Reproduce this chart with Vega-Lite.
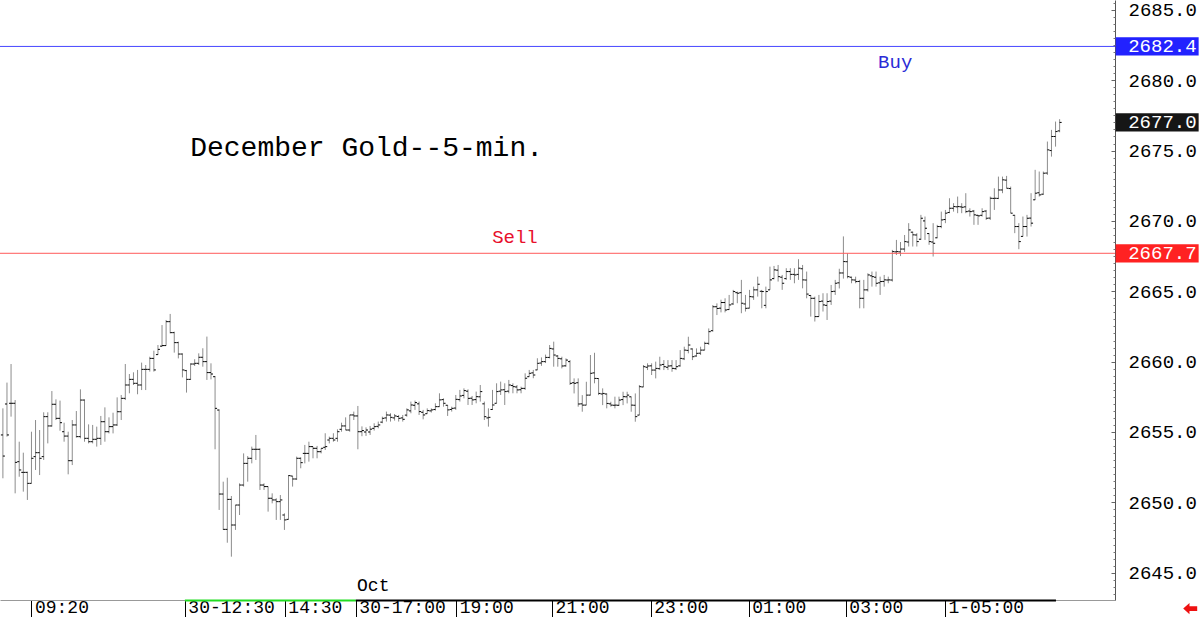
{
"$schema":"https://vega.github.io/schema/vega-lite/v6.json",
"width":1115,"height":600,"autosize":"none",
"padding":{"left":0,"top":0,"right":85,"bottom":17},
"background":"white",
"config":{"view":{"stroke":null},"font":"Liberation Mono"},
"datasets":{
"bars":[
{"i":0,"o":2654.79,"h":2656.68,"l":2651.71,"c":2653.29},
{"i":1,"o":2656.99,"h":2658.51,"l":2654.67,"c":2654.79},
{"i":2,"o":2657.04,"h":2659.83,"l":2656.09,"c":2657.04},
{"i":3,"o":2657.04,"h":2657.27,"l":2650.64,"c":2652.84},
{"i":4,"o":2652.89,"h":2654.31,"l":2651.82,"c":2652.30},
{"i":5,"o":2652.13,"h":2653.53,"l":2650.76,"c":2652.13},
{"i":6,"o":2652.13,"h":2652.18,"l":2650.17,"c":2651.35},
{"i":7,"o":2651.35,"h":2655.02,"l":2651.35,"c":2653.13},
{"i":8,"o":2653.25,"h":2655.85,"l":2652.30,"c":2653.53},
{"i":9,"o":2653.53,"h":2655.14,"l":2651.94,"c":2653.13},
{"i":10,"o":2653.25,"h":2656.40,"l":2653.01,"c":2656.09},
{"i":11,"o":2656.09,"h":2656.40,"l":2654.19,"c":2655.43},
{"i":12,"o":2655.43,"h":2657.91,"l":2655.38,"c":2656.97},
{"i":13,"o":2656.97,"h":2657.32,"l":2655.85,"c":2655.97},
{"i":14,"o":2655.97,"h":2657.23,"l":2655.09,"c":2655.66},
{"i":15,"o":2655.02,"h":2655.66,"l":2654.31,"c":2654.71},
{"i":16,"o":2654.71,"h":2655.02,"l":2651.99,"c":2652.96},
{"i":17,"o":2652.96,"h":2655.85,"l":2652.65,"c":2655.50},
{"i":18,"o":2655.50,"h":2656.49,"l":2654.60,"c":2654.67},
{"i":19,"o":2654.67,"h":2658.03,"l":2654.55,"c":2657.27},
{"i":20,"o":2657.27,"h":2657.32,"l":2654.31,"c":2654.55},
{"i":21,"o":2654.55,"h":2655.54,"l":2654.19,"c":2654.31},
{"i":22,"o":2654.31,"h":2655.50,"l":2654.19,"c":2654.48},
{"i":23,"o":2654.48,"h":2655.38,"l":2653.96,"c":2654.55},
{"i":24,"o":2654.55,"h":2656.14,"l":2654.08,"c":2655.73},
{"i":25,"o":2655.73,"h":2656.75,"l":2654.31,"c":2655.02},
{"i":26,"o":2655.02,"h":2656.04,"l":2654.90,"c":2655.38},
{"i":27,"o":2655.38,"h":2656.37,"l":2654.90,"c":2655.50},
{"i":28,"o":2655.50,"h":2657.46,"l":2655.43,"c":2656.44},
{"i":29,"o":2656.44,"h":2657.63,"l":2655.85,"c":2657.39},
{"i":30,"o":2657.39,"h":2659.83,"l":2657.27,"c":2658.34},
{"i":31,"o":2658.34,"h":2659.12,"l":2657.75,"c":2658.74},
{"i":32,"o":2658.74,"h":2659.24,"l":2658.34,"c":2658.46},
{"i":33,"o":2658.46,"h":2659.41,"l":2657.68,"c":2658.34},
{"i":34,"o":2658.34,"h":2659.93,"l":2657.98,"c":2659.45},
{"i":35,"o":2659.45,"h":2659.76,"l":2657.98,"c":2659.45},
{"i":36,"o":2659.45,"h":2660.35,"l":2659.29,"c":2660.23},
{"i":37,"o":2660.23,"h":2660.78,"l":2659.29,"c":2659.41},
{"i":38,"o":2660.50,"h":2661.18,"l":2660.47,"c":2660.87},
{"i":39,"o":2661.10,"h":2662.60,"l":2661.06,"c":2661.14},
{"i":40,"o":2661.14,"h":2662.96,"l":2661.14,"c":2662.84},
{"i":41,"o":2662.84,"h":2663.39,"l":2662.01,"c":2662.06},
{"i":42,"o":2662.06,"h":2662.13,"l":2660.64,"c":2661.35},
{"i":43,"o":2661.35,"h":2661.42,"l":2660.23,"c":2660.54},
{"i":44,"o":2660.54,"h":2660.59,"l":2658.88,"c":2659.41},
{"i":45,"o":2659.36,"h":2659.41,"l":2657.80,"c":2658.74},
{"i":46,"o":2658.74,"h":2659.88,"l":2658.70,"c":2659.83},
{"i":47,"o":2659.83,"h":2660.17,"l":2659.69,"c":2659.88},
{"i":48,"o":2659.88,"h":2660.59,"l":2659.76,"c":2660.31},
{"i":49,"o":2660.31,"h":2660.95,"l":2659.64,"c":2660.00},
{"i":50,"o":2660.00,"h":2661.78,"l":2658.70,"c":2659.22},
{"i":51,"o":2659.22,"h":2659.88,"l":2658.74,"c":2659.12},
{"i":52,"o":2658.93,"h":2658.98,"l":2653.77,"c":2656.68},
{"i":53,"o":2656.56,"h":2656.61,"l":2649.46,"c":2650.59},
{"i":54,"o":2650.59,"h":2651.47,"l":2648.04,"c":2648.08},
{"i":55,"o":2648.08,"h":2651.75,"l":2647.13,"c":2650.21},
{"i":56,"o":2650.21,"h":2650.45,"l":2646.14,"c":2648.39},
{"i":57,"o":2648.39,"h":2649.81,"l":2648.04,"c":2649.81},
{"i":58,"o":2649.81,"h":2651.35,"l":2649.10,"c":2651.23},
{"i":59,"o":2651.23,"h":2653.48,"l":2651.12,"c":2652.77},
{"i":60,"o":2652.77,"h":2653.29,"l":2651.47,"c":2653.13},
{"i":61,"o":2653.13,"h":2653.96,"l":2652.77,"c":2653.77},
{"i":62,"o":2653.77,"h":2654.79,"l":2653.01,"c":2653.77},
{"i":63,"o":2653.77,"h":2653.84,"l":2650.88,"c":2651.23},
{"i":64,"o":2651.23,"h":2651.35,"l":2650.88,"c":2651.12},
{"i":65,"o":2651.12,"h":2651.12,"l":2649.34,"c":2650.29},
{"i":66,"o":2650.29,"h":2650.64,"l":2649.93,"c":2650.17},
{"i":67,"o":2650.17,"h":2650.29,"l":2648.75,"c":2650.05},
{"i":68,"o":2650.05,"h":2650.52,"l":2648.75,"c":2650.17},
{"i":69,"o":2649.10,"h":2649.22,"l":2648.04,"c":2648.75},
{"i":70,"o":2648.79,"h":2651.94,"l":2648.79,"c":2651.90},
{"i":71,"o":2651.87,"h":2651.87,"l":2651.12,"c":2651.66},
{"i":72,"o":2651.66,"h":2653.25,"l":2651.59,"c":2653.13},
{"i":73,"o":2653.13,"h":2653.20,"l":2652.42,"c":2652.82},
{"i":74,"o":2653.48,"h":2654.08,"l":2652.77,"c":2653.48},
{"i":75,"o":2653.48,"h":2654.31,"l":2652.89,"c":2653.96},
{"i":76,"o":2653.96,"h":2653.96,"l":2653.13,"c":2653.84},
{"i":77,"o":2653.84,"h":2654.01,"l":2653.13,"c":2653.60},
{"i":78,"o":2653.60,"h":2653.84,"l":2653.48,"c":2653.84},
{"i":79,"o":2653.91,"h":2654.91,"l":2653.72,"c":2653.96},
{"i":80,"o":2654.43,"h":2654.67,"l":2654.19,"c":2654.55},
{"i":81,"o":2654.55,"h":2654.91,"l":2654.31,"c":2654.43},
{"i":82,"o":2654.55,"h":2655.19,"l":2654.31,"c":2655.02},
{"i":83,"o":2655.19,"h":2655.66,"l":2655.02,"c":2655.43},
{"i":84,"o":2655.43,"h":2656.04,"l":2655.14,"c":2655.14},
{"i":85,"o":2655.14,"h":2656.21,"l":2655.02,"c":2656.21},
{"i":86,"o":2656.21,"h":2656.45,"l":2655.85,"c":2656.14},
{"i":87,"o":2656.14,"h":2656.85,"l":2653.77,"c":2655.02},
{"i":88,"o":2655.02,"h":2655.40,"l":2654.70,"c":2655.10},
{"i":89,"o":2655.00,"h":2655.33,"l":2654.72,"c":2655.14},
{"i":90,"o":2655.00,"h":2655.43,"l":2654.79,"c":2655.20},
{"i":91,"o":2655.26,"h":2655.62,"l":2655.10,"c":2655.38},
{"i":92,"o":2655.40,"h":2655.74,"l":2655.26,"c":2655.50},
{"i":93,"o":2655.70,"h":2656.09,"l":2655.62,"c":2655.97},
{"i":94,"o":2656.00,"h":2656.45,"l":2655.74,"c":2656.21},
{"i":95,"o":2656.20,"h":2656.33,"l":2655.74,"c":2656.04},
{"i":96,"o":2656.00,"h":2656.28,"l":2655.81,"c":2656.14},
{"i":97,"o":2656.10,"h":2656.21,"l":2655.74,"c":2655.97},
{"i":98,"o":2656.00,"h":2656.21,"l":2655.74,"c":2655.90},
{"i":99,"o":2656.20,"h":2656.68,"l":2656.09,"c":2656.57},
{"i":100,"o":2656.50,"h":2657.16,"l":2656.33,"c":2656.92},
{"i":101,"o":2656.90,"h":2657.23,"l":2656.57,"c":2657.09},
{"i":102,"o":2657.00,"h":2657.16,"l":2656.21,"c":2656.45},
{"i":103,"o":2656.40,"h":2656.57,"l":2655.90,"c":2656.21},
{"i":104,"o":2656.30,"h":2656.68,"l":2656.30,"c":2656.52},
{"i":105,"o":2656.50,"h":2656.68,"l":2656.38,"c":2656.57},
{"i":106,"o":2656.60,"h":2657.04,"l":2656.52,"c":2656.80},
{"i":107,"o":2656.80,"h":2657.75,"l":2656.80,"c":2657.28},
{"i":108,"o":2657.30,"h":2657.39,"l":2656.80,"c":2657.04},
{"i":109,"o":2656.90,"h":2656.92,"l":2656.14,"c":2656.57},
{"i":110,"o":2656.60,"h":2656.80,"l":2656.45,"c":2656.68},
{"i":111,"o":2656.70,"h":2657.63,"l":2656.57,"c":2657.32},
{"i":112,"o":2657.30,"h":2657.99,"l":2657.16,"c":2657.56},
{"i":113,"o":2657.60,"h":2658.10,"l":2657.39,"c":2657.94},
{"i":114,"o":2657.90,"h":2658.03,"l":2656.92,"c":2657.39},
{"i":115,"o":2657.40,"h":2657.56,"l":2656.92,"c":2657.28},
{"i":116,"o":2657.30,"h":2657.87,"l":2657.04,"c":2657.51},
{"i":117,"o":2657.50,"h":2658.34,"l":2657.16,"c":2657.87},
{"i":118,"o":2657.00,"h":2657.16,"l":2655.85,"c":2656.09},
{"i":119,"o":2656.00,"h":2656.68,"l":2655.38,"c":2656.04},
{"i":120,"o":2656.60,"h":2657.99,"l":2656.57,"c":2656.92},
{"i":121,"o":2657.04,"h":2658.46,"l":2657.04,"c":2657.87},
{"i":122,"o":2657.90,"h":2658.58,"l":2657.63,"c":2657.99},
{"i":123,"o":2658.00,"h":2658.46,"l":2656.92,"c":2657.87},
{"i":124,"o":2657.90,"h":2658.70,"l":2657.75,"c":2658.34},
{"i":125,"o":2658.30,"h":2658.46,"l":2657.75,"c":2658.22},
{"i":126,"o":2658.20,"h":2658.34,"l":2657.75,"c":2657.99},
{"i":127,"o":2658.00,"h":2658.22,"l":2657.75,"c":2658.10},
{"i":128,"o":2658.10,"h":2659.17,"l":2657.99,"c":2658.82},
{"i":129,"o":2658.93,"h":2659.41,"l":2658.93,"c":2659.17},
{"i":130,"o":2659.20,"h":2659.41,"l":2658.82,"c":2659.05},
{"i":131,"o":2659.41,"h":2660.24,"l":2659.41,"c":2659.88},
{"i":132,"o":2659.90,"h":2660.30,"l":2659.70,"c":2660.00},
{"i":133,"o":2660.00,"h":2660.50,"l":2659.90,"c":2660.30},
{"i":134,"o":2660.30,"h":2661.18,"l":2660.23,"c":2660.94},
{"i":135,"o":2660.90,"h":2661.42,"l":2659.64,"c":2660.47},
{"i":136,"o":2660.40,"h":2660.47,"l":2659.64,"c":2660.23},
{"i":137,"o":2660.20,"h":2660.35,"l":2659.52,"c":2659.69},
{"i":138,"o":2659.70,"h":2660.23,"l":2659.64,"c":2660.11},
{"i":139,"o":2660.00,"h":2660.11,"l":2658.34,"c":2658.46},
{"i":140,"o":2658.50,"h":2658.81,"l":2657.74,"c":2658.46},
{"i":141,"o":2658.50,"h":2658.81,"l":2656.80,"c":2656.99},
{"i":142,"o":2657.00,"h":2657.62,"l":2656.44,"c":2656.91},
{"i":143,"o":2656.91,"h":2658.57,"l":2656.91,"c":2657.62},
{"i":144,"o":2657.62,"h":2660.47,"l":2657.60,"c":2659.17},
{"i":145,"o":2659.20,"h":2660.63,"l":2658.46,"c":2658.81},
{"i":146,"o":2658.80,"h":2658.81,"l":2657.62,"c":2657.74},
{"i":147,"o":2657.70,"h":2658.10,"l":2656.91,"c":2657.74},
{"i":148,"o":2657.70,"h":2657.74,"l":2656.68,"c":2657.03},
{"i":149,"o":2657.00,"h":2657.15,"l":2656.80,"c":2656.91},
{"i":150,"o":2656.90,"h":2657.51,"l":2656.68,"c":2656.91},
{"i":151,"o":2656.90,"h":2657.51,"l":2656.85,"c":2657.27},
{"i":152,"o":2657.30,"h":2657.86,"l":2656.91,"c":2657.51},
{"i":153,"o":2657.50,"h":2657.86,"l":2657.03,"c":2657.62},
{"i":154,"o":2657.50,"h":2657.51,"l":2656.44,"c":2656.91},
{"i":155,"o":2656.90,"h":2657.74,"l":2655.73,"c":2656.09},
{"i":156,"o":2656.20,"h":2658.34,"l":2656.20,"c":2658.22},
{"i":157,"o":2658.20,"h":2659.76,"l":2658.20,"c":2659.64},
{"i":158,"o":2659.60,"h":2659.88,"l":2659.40,"c":2659.69},
{"i":159,"o":2659.70,"h":2659.88,"l":2659.05,"c":2659.40},
{"i":160,"o":2659.40,"h":2660.00,"l":2658.81,"c":2659.52},
{"i":161,"o":2659.50,"h":2660.35,"l":2659.40,"c":2659.76},
{"i":162,"o":2659.80,"h":2660.11,"l":2659.40,"c":2659.64},
{"i":163,"o":2659.60,"h":2660.11,"l":2659.40,"c":2659.69},
{"i":164,"o":2659.70,"h":2660.11,"l":2659.28,"c":2659.52},
{"i":165,"o":2659.50,"h":2660.11,"l":2659.40,"c":2659.64},
{"i":166,"o":2659.70,"h":2660.82,"l":2659.64,"c":2660.23},
{"i":167,"o":2660.20,"h":2661.06,"l":2660.11,"c":2660.82},
{"i":168,"o":2660.80,"h":2661.77,"l":2660.59,"c":2661.18},
{"i":169,"o":2660.90,"h":2660.94,"l":2660.11,"c":2660.35},
{"i":170,"o":2660.40,"h":2660.94,"l":2660.35,"c":2660.59},
{"i":171,"o":2660.60,"h":2661.06,"l":2660.47,"c":2660.82},
{"i":172,"o":2660.82,"h":2661.42,"l":2660.82,"c":2661.30},
{"i":173,"o":2661.30,"h":2662.36,"l":2661.18,"c":2662.13},
{"i":174,"o":2662.20,"h":2664.02,"l":2662.13,"c":2663.90},
{"i":175,"o":2663.90,"h":2664.14,"l":2663.31,"c":2663.78},
{"i":176,"o":2663.80,"h":2664.40,"l":2663.50,"c":2664.20},
{"i":177,"o":2664.20,"h":2664.50,"l":2663.50,"c":2663.67},
{"i":178,"o":2663.70,"h":2664.74,"l":2663.67,"c":2664.03},
{"i":179,"o":2664.10,"h":2665.10,"l":2664.03,"c":2664.98},
{"i":180,"o":2664.90,"h":2664.98,"l":2664.15,"c":2664.86},
{"i":181,"o":2664.90,"h":2665.81,"l":2663.44,"c":2664.15},
{"i":182,"o":2664.10,"h":2664.74,"l":2663.56,"c":2663.79},
{"i":183,"o":2663.80,"h":2665.10,"l":2663.80,"c":2664.62},
{"i":184,"o":2664.60,"h":2665.33,"l":2664.39,"c":2665.10},
{"i":185,"o":2665.10,"h":2666.04,"l":2664.62,"c":2665.50},
{"i":186,"o":2665.00,"h":2665.10,"l":2663.79,"c":2664.98},
{"i":187,"o":2664.00,"h":2665.33,"l":2663.79,"c":2664.98},
{"i":188,"o":2665.10,"h":2666.75,"l":2665.10,"c":2665.81},
{"i":189,"o":2665.90,"h":2666.80,"l":2665.85,"c":2666.52},
{"i":190,"o":2666.50,"h":2666.87,"l":2665.69,"c":2666.04},
{"i":191,"o":2666.00,"h":2666.16,"l":2665.10,"c":2665.57},
{"i":192,"o":2665.90,"h":2666.64,"l":2665.81,"c":2666.40},
{"i":193,"o":2666.40,"h":2666.64,"l":2665.81,"c":2666.20},
{"i":194,"o":2666.20,"h":2666.64,"l":2665.57,"c":2666.16},
{"i":195,"o":2666.20,"h":2667.28,"l":2665.81,"c":2666.64},
{"i":196,"o":2666.60,"h":2666.87,"l":2665.21,"c":2665.81},
{"i":197,"o":2665.80,"h":2666.40,"l":2664.50,"c":2664.80},
{"i":198,"o":2664.70,"h":2664.74,"l":2663.20,"c":2664.50},
{"i":199,"o":2664.50,"h":2664.62,"l":2662.85,"c":2663.20},
{"i":200,"o":2663.20,"h":2664.74,"l":2663.20,"c":2664.27},
{"i":201,"o":2664.30,"h":2664.86,"l":2663.56,"c":2664.03},
{"i":202,"o":2664.00,"h":2664.86,"l":2662.96,"c":2664.27},
{"i":203,"o":2664.30,"h":2665.45,"l":2664.03,"c":2664.98},
{"i":204,"o":2665.00,"h":2665.81,"l":2664.74,"c":2665.57},
{"i":205,"o":2665.60,"h":2666.60,"l":2665.20,"c":2666.30},
{"i":206,"o":2666.30,"h":2668.90,"l":2665.90,"c":2667.11},
{"i":207,"o":2667.10,"h":2667.70,"l":2665.92,"c":2666.04},
{"i":208,"o":2666.00,"h":2666.04,"l":2665.57,"c":2665.81},
{"i":209,"o":2665.80,"h":2666.04,"l":2665.57,"c":2665.69},
{"i":210,"o":2665.70,"h":2665.81,"l":2663.79,"c":2664.50},
{"i":211,"o":2664.50,"h":2665.81,"l":2663.79,"c":2665.10},
{"i":212,"o":2665.10,"h":2666.28,"l":2664.98,"c":2666.16},
{"i":213,"o":2666.10,"h":2666.40,"l":2665.33,"c":2666.04},
{"i":214,"o":2666.00,"h":2666.40,"l":2665.33,"c":2665.57},
{"i":215,"o":2665.60,"h":2666.04,"l":2664.74,"c":2665.69},
{"i":216,"o":2665.70,"h":2666.16,"l":2665.33,"c":2665.81},
{"i":217,"o":2665.80,"h":2666.04,"l":2665.57,"c":2665.81},
{"i":218,"o":2665.80,"h":2667.94,"l":2665.69,"c":2667.82},
{"i":219,"o":2667.80,"h":2668.65,"l":2667.58,"c":2667.82},
{"i":220,"o":2667.80,"h":2668.50,"l":2667.50,"c":2668.00},
{"i":221,"o":2668.00,"h":2669.00,"l":2667.80,"c":2668.53},
{"i":222,"o":2668.50,"h":2669.84,"l":2668.18,"c":2669.36},
{"i":223,"o":2669.20,"h":2669.24,"l":2668.18,"c":2669.01},
{"i":224,"o":2669.00,"h":2669.13,"l":2668.18,"c":2668.53},
{"i":225,"o":2668.70,"h":2670.43,"l":2668.65,"c":2670.19},
{"i":226,"o":2670.00,"h":2670.31,"l":2668.65,"c":2669.48},
{"i":227,"o":2669.10,"h":2669.13,"l":2668.30,"c":2668.53},
{"i":228,"o":2668.50,"h":2669.84,"l":2667.47,"c":2668.41},
{"i":229,"o":2668.80,"h":2669.72,"l":2668.77,"c":2669.60},
{"i":230,"o":2669.60,"h":2670.66,"l":2669.48,"c":2670.07},
{"i":231,"o":2670.10,"h":2670.78,"l":2669.84,"c":2670.55},
{"i":232,"o":2670.60,"h":2671.61,"l":2670.55,"c":2670.90},
{"i":233,"o":2670.90,"h":2671.26,"l":2670.66,"c":2671.02},
{"i":234,"o":2671.00,"h":2671.73,"l":2670.55,"c":2671.02},
{"i":235,"o":2671.00,"h":2671.26,"l":2670.55,"c":2670.97},
{"i":236,"o":2671.00,"h":2671.97,"l":2670.55,"c":2670.66},
{"i":237,"o":2670.70,"h":2670.90,"l":2670.31,"c":2670.66},
{"i":238,"o":2670.70,"h":2670.78,"l":2669.72,"c":2670.43},
{"i":239,"o":2670.40,"h":2670.43,"l":2669.72,"c":2670.36},
{"i":240,"o":2670.40,"h":2670.90,"l":2670.31,"c":2670.66},
{"i":241,"o":2670.70,"h":2670.78,"l":2670.07,"c":2670.19},
{"i":242,"o":2670.20,"h":2671.73,"l":2670.07,"c":2671.61},
{"i":243,"o":2671.60,"h":2672.32,"l":2670.78,"c":2671.61},
{"i":244,"o":2671.60,"h":2673.15,"l":2671.55,"c":2672.20},
{"i":245,"o":2672.20,"h":2673.15,"l":2671.97,"c":2672.92},
{"i":246,"o":2672.90,"h":2673.20,"l":2672.32,"c":2672.32},
{"i":247,"o":2672.30,"h":2672.44,"l":2670.55,"c":2670.55},
{"i":248,"o":2670.40,"h":2670.43,"l":2669.13,"c":2669.60},
{"i":249,"o":2669.60,"h":2669.84,"l":2667.99,"c":2668.53},
{"i":250,"o":2668.90,"h":2670.31,"l":2668.89,"c":2669.60},
{"i":251,"o":2669.60,"h":2670.43,"l":2668.89,"c":2670.19},
{"i":252,"o":2670.20,"h":2671.97,"l":2669.60,"c":2669.84},
{"i":253,"o":2671.50,"h":2673.63,"l":2671.49,"c":2671.97},
{"i":254,"o":2672.00,"h":2673.51,"l":2671.73,"c":2671.85},
{"i":255,"o":2671.90,"h":2673.51,"l":2671.85,"c":2673.39},
{"i":256,"o":2673.40,"h":2675.64,"l":2673.27,"c":2675.05},
{"i":257,"o":2675.00,"h":2676.47,"l":2674.57,"c":2676.00},
{"i":258,"o":2676.00,"h":2677.06,"l":2675.28,"c":2676.35},
{"i":259,"o":2676.40,"h":2677.23,"l":2676.30,"c":2677.00}
],
"levels":[{"p":2682.4,"k":"Buy"},{"p":2667.7,"k":"Sell"}],
"notes":[{"i":218.7,"p":2681.3,"t":"Buy"},{"i":125.5,"p":2668.85,"t":"Sell"}],
"title":[{"i":45.9,"p":2674.6,"t":"December Gold--5-min."}],
"oct":[{"i":86.8,"p":2643.68,"t":"Oct"}],
"tags":[{"p":2682.4,"t":"2682.4","k":"Buy"},{"p":2677.0,"t":"2677.0","k":"Last"},{"p":2667.7,"t":"2667.7","k":"Sell"}],
"green":[{"s":44.6,"e":86.5}],
"black":[{"s":86.5,"e":258.1}]
},
"layer":[
{"data":{"name":"bars"},
 "mark":{"type":"rule","color":"#8c8c8c","strokeWidth":1},
 "encoding":{
  "x":{"field":"i","type":"quantitative","scale":{"domain":[-0.711,272.57],"nice":false,"zero":false},
   "axis":{"orient":"bottom","title":null,"grid":false,"values":[7,44.6,69.1,86.5,111.1,134.6,158.8,182.8,206.6,230.9],
    "labelExpr":"datum.value==7?'09:20':datum.value==44.6?'30-12:30':datum.value==69.1?'14:30':datum.value==86.5?'30-17:00':datum.value==111.1?'19:00':datum.value==134.6?'21:00':datum.value==158.8?'23:00':datum.value==182.8?'01:00':datum.value==206.6?'03:00':datum.value==230.9?'1-05:00':''",
    "domainColor":"#999999","domainWidth":1,"tickColor":"#000000","tickSize":17,"tickWidth":1,
    "labelAlign":"left","labelBaseline":"bottom","labelPadding":-0.5,"labelOffset":3,
    "labelFont":"Liberation Mono","labelFontSize":18,"labelColor":"#000000","labelFlush":false,"labelOverlap":false}},
  "y":{"field":"l","type":"quantitative","scale":{"domain":[2643.06,2685.7],"nice":false,"zero":false},
   "axis":{"orient":"right","title":null,"grid":false,
    "values":[2645,2650,2655,2660,2665,2670,2675,2680,2685],"format":".1f",
    "domainColor":"#555555","tickColor":"#666666","tickSize":-4,"labelPadding":17,
    "labelAlign":"left","labelBaseline":"middle","labelFont":"Liberation Mono","labelFontSize":19,"labelColor":"#000000","labelOverlap":false}},
  "y2":{"field":"h"}}},
{"data":{"name":"bars"},
 "mark":{"type":"rule","color":"#000000","strokeWidth":1,"xOffset":-2},
 "encoding":{"x":{"field":"i","type":"quantitative"},"x2":{"field":"i"},"y":{"field":"o","type":"quantitative","axis":null}}},
{"data":{"name":"bars"},
 "mark":{"type":"rule","color":"#000000","strokeWidth":1,"x2Offset":2},
 "encoding":{"x":{"field":"i","type":"quantitative"},"x2":{"field":"i"},"y":{"field":"c","type":"quantitative","axis":null}}},
{"data":{"name":"levels"},"transform":[{"filter":"datum.k=='Buy'"}],
 "mark":{"type":"rule","color":"#4646ff","strokeWidth":1},
 "encoding":{"y":{"field":"p","type":"quantitative",
   "axis":{"orient":"right","title":null,"grid":false,"labels":false,"domain":false,"tickSize":-2,"tickColor":"#777777",
    "values":[2643.5,2644,2644.5,2645.5,2646,2646.5,2647,2647.5,2648,2648.5,2649,2649.5,2650.5,2651,2651.5,2652,2652.5,2653,2653.5,2654,2654.5,2655.5,2656,2656.5,2657,2657.5,2658,2658.5,2659,2659.5,2660.5,2661,2661.5,2662,2662.5,2663,2663.5,2664,2664.5,2665.5,2666,2666.5,2667,2667.5,2668,2668.5,2669,2669.5,2670.5,2671,2671.5,2672,2672.5,2673,2673.5,2674,2674.5,2675.5,2676,2676.5,2677,2677.5,2678,2678.5,2679,2679.5,2680.5,2681,2681.5,2682,2682.5,2683,2683.5,2684,2684.5,2685.5]}}}},
{"data":{"name":"levels"},"transform":[{"filter":"datum.k=='Sell'"}],
 "mark":{"type":"rule","color":"#ff5a5a","strokeWidth":1},
 "encoding":{"y":{"field":"p","type":"quantitative","axis":null}}},
{"data":{"name":"notes"},
 "mark":{"type":"text","font":"Liberation Mono","fontSize":19,"align":"center","baseline":"middle"},
 "encoding":{"x":{"field":"i","type":"quantitative"},"y":{"field":"p","type":"quantitative","axis":null},"text":{"field":"t"},
  "color":{"field":"t","type":"nominal","scale":{"domain":["Buy","Sell"],"range":["#2b2bd6","#e8102c"]},"legend":null}}},
{"data":{"name":"title"},
 "mark":{"type":"text","font":"Liberation Mono","fontSize":28,"align":"left","baseline":"alphabetic","color":"#000000"},
 "encoding":{"x":{"field":"i","type":"quantitative"},"y":{"field":"p","type":"quantitative","axis":null},"text":{"field":"t"}}},
{"data":{"name":"oct"},
 "mark":{"type":"text","font":"Liberation Mono","fontSize":18,"align":"left","baseline":"alphabetic","color":"#000000"},
 "encoding":{"x":{"field":"i","type":"quantitative"},"y":{"field":"p","type":"quantitative","axis":null},"text":{"field":"t"}}},
{"data":{"name":"green"},
 "mark":{"type":"rule","color":"#22dd22","strokeWidth":2},
 "encoding":{"x":{"field":"s","type":"quantitative"},"x2":{"field":"e"},"y":{"datum":2643.02,"type":"quantitative","axis":null}}},
{"data":{"name":"black"},
 "mark":{"type":"rule","color":"#000000","strokeWidth":2},
 "encoding":{"x":{"field":"s","type":"quantitative"},"x2":{"field":"e"},"y":{"datum":2643.02,"type":"quantitative","axis":null}}},
{"data":{"name":"tags"},
 "mark":{"type":"point","filled":true,"opacity":1,"shape":"M-1,-0.22H1V0.22H-1Z","size":6889,"strokeWidth":0},
 "encoding":{"x":{"datum":282.9,"type":"quantitative"},"y":{"field":"p","type":"quantitative","axis":null},
  "color":{"field":"k","type":"nominal","scale":{"domain":["Buy","Last","Sell"],"range":["#2222ff","#161616","#ff2222"]},"legend":null}}},
{"data":{"name":"tags"},
 "mark":{"type":"text","font":"Liberation Mono","fontSize":19,"align":"left","baseline":"middle","color":"#ffffff"},
 "encoding":{"x":{"datum":275.8,"type":"quantitative"},"y":{"field":"p","type":"quantitative","axis":null},"text":{"field":"t"}}},
{"data":{"values":[{"k":"arrow"}]},
 "mark":{"type":"point","filled":true,"opacity":1,"color":"#ee1111","shape":"M-1,0L-0.1,-0.8V-0.35H1V0.35H-0.1V0.8Z","size":196},
 "encoding":{"x":{"datum":291,"type":"quantitative"},"y":{"datum":2642.45,"type":"quantitative","axis":null}}}
],
"resolve":{"scale":{"color":"independent"},"axis":{"y":"independent"}}
}
